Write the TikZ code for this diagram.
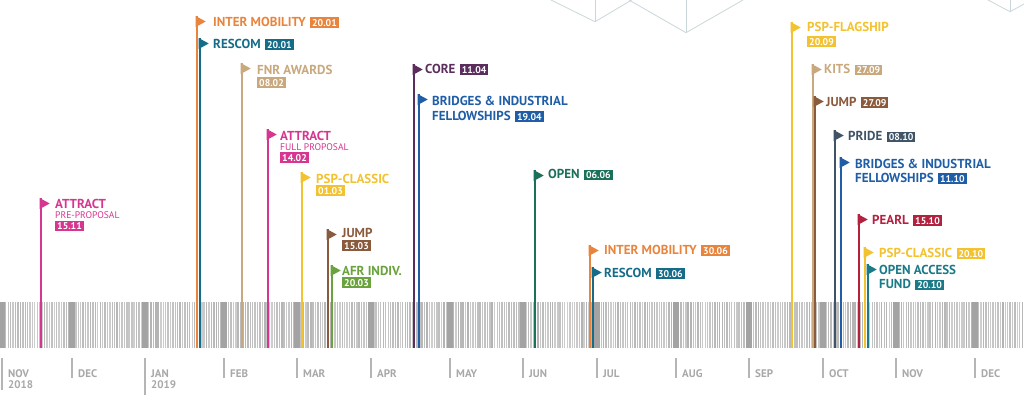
\documentclass[tikz,border=0pt]{standalone}
\usepackage{fontspec}
\setmainfont{PT Sans}
\definecolor{cpink}{HTML}{D6368F}
\definecolor{corange}{HTML}{E8843C}
\definecolor{crescom}{HTML}{156C88}
\definecolor{ctan}{HTML}{C8A87C}
\definecolor{cyellow}{HTML}{F2C230}
\definecolor{cbrown}{HTML}{8A5A3C}
\definecolor{cgreen}{HTML}{6AA33E}
\definecolor{cpurple}{HTML}{5A2D5C}
\definecolor{cblue}{HTML}{1F5EA6}
\definecolor{copen}{HTML}{1A7058}
\definecolor{cslate}{HTML}{3F5466}
\definecolor{ccrimson}{HTML}{B3213F}
\definecolor{cteal}{HTML}{1A7A88}
\definecolor{cmonth}{HTML}{A8A8A8}
\definecolor{cdeco}{HTML}{C9D6DA}
\newcommand{\evline}[4]{%
  \coordinate (#1t) at (#2,#3);
  \coordinate (#1b) at (#2,348);
  \draw[#4, line width=2.6pt] (#1t) -- (#1b);
  \fill[#4] ([xshift=-1.3pt]#1t) -- ++(10,5.5) -- ++(-10,5.5) -- cycle;
}
\tikzset{
  ttl/.style={anchor=base west, inner sep=0pt, font=\bfseries\fontsize{13}{13}\selectfont},
  sub/.style={anchor=base west, inner sep=0pt, font=\fontsize{9.6}{9.6}\selectfont},
  dt/.style={anchor=base west, text=white, inner xsep=2pt, inner ysep=1.7pt, font=\bfseries\fontsize{9.8}{9.8}\selectfont},
  mon/.style={anchor=base west, inner sep=0pt, text=cmonth, font=\bfseries\fontsize{11}{11}\selectfont, align=left},
  tick/.style={draw=cmonth!85, line width=2pt},
  deco/.style={draw=cdeco, line width=0.8pt}
}
\begin{document}
\begin{tikzpicture}[x=1pt,y=-1pt]
\useasboundingbox (0,0) rectangle (1024,397);
% top decoration
\draw[deco] (551,0) -- (595,21.7) -- (631.7,0);
\draw[deco] (595,0) -- (595,21.7);
\draw[deco] (629,0) -- (686,32.7) -- (743,0);
\draw[deco] (686,0) -- (686,32.7);
\draw[deco] (988,0) -- (1010,11.7) -- (1024,4);
\draw[deco] (1010,0) -- (1010,11.7);
% barcode band
\pgfmathsetseed{11}
\foreach \i in {0,...,422} {
  \pgfmathsetmacro{\xx}{1+\i*2.42}
  \pgfmathsetmacro{\ww}{1.1+rnd*0.7}
  \pgfmathsetmacro{\gg}{19+rnd*11}
  \draw[line width=\ww pt, color=black!\gg] (\xx,302) -- (\xx,348);
}
\foreach \mx in {2,72,145,224,297,371,450,523,597,676,749,823,896,975} {
  \fill[black!36] (\mx-3,302) rectangle (\mx+3,348);
}
% month ticks and labels
\foreach \mx/\len in {2/390,72/378,145/395,224/378,297/378,371/378,450/378,523/378,597/378,676/378,749/378,823/378,896/378,975/378} {
  \draw[tick] (\mx,358) -- (\mx,\len);
}
\node[mon] (m1) at (8,377) {NOV};
\node[mon] (m1y) at (8,388) {2018};
\node[mon] (m2) at (78,377) {DEC};
\node[mon] (m3) at (151,377) {JAN};
\node[mon] (m3y) at (151,388) {2019};
\node[mon] (m4) at (230,377) {FEB};
\node[mon] (m5) at (303,377) {MAR};
\node[mon] (m6) at (377,377) {APR};
\node[mon] (m7) at (456,377) {MAY};
\node[mon] (m8) at (529,377) {JUN};
\node[mon] (m9) at (603,377) {JUL};
\node[mon] (m10) at (682,377) {AUG};
\node[mon] (m11) at (755,377) {SEP};
\node[mon] (m12) at (829,377) {OCT};
\node[mon] (m13) at (902,377) {NOV};
\node[mon] (m14) at (981,377) {DEC};
% event lines
\evline{a}{41}{198}{cpink}
\evline{b}{197}{16}{corange}
\evline{c}{200}{38}{crescom}
\evline{d}{242}{63}{ctan}
\evline{e}{268}{129}{cpink}
\evline{f}{302}{172}{cyellow}
\evline{g}{328}{229}{cbrown}
\evline{h}{332}{265}{cgreen}
\evline{i}{414}{64}{cpurple}
\evline{j}{419}{94}{cblue}
\evline{k}{535}{170}{copen}
\evline{l}{590}{245}{corange}
\evline{m}{593}{267}{crescom}
\evline{n}{792}{22}{cyellow}
\evline{o}{813}{64}{ctan}
\evline{p}{815}{96}{cbrown}
\evline{q}{835}{130}{cslate}
\evline{r}{841}{157}{cblue}
\evline{s}{859}{214}{ccrimson}
\evline{t}{865}{247}{cyellow}
\evline{u}{868}{264}{cteal}
% labels
\node[ttl, text=cpink] (a1) at (55,208.5) {ATTRACT};
\node[sub, text=cpink] (a2) at (55,218.5) {PRE-PROPOSAL};
\node[dt, fill=cpink] (a3) at (55,229.5) {15.11};

\node[ttl, text=corange] (b1) at (213,26) {INTER MOBILITY};
\node[dt, fill=corange] (b2) at ([xshift=4pt]b1.base east) {20.01};

\node[ttl, text=crescom] (c1) at (213,48) {RESCOM};
\node[dt, fill=crescom] (c2) at ([xshift=4pt]c1.base east) {20.01};

\node[ttl, text=ctan] (d1) at (257,74) {FNR AWARDS};
\node[dt, fill=ctan] (d2) at (257,86) {08.02};

\node[ttl, text=cpink] (e1) at (280,140) {ATTRACT};
\node[sub, text=cpink] (e2) at (280,150) {FULL PROPOSAL};
\node[dt, fill=cpink] (e3) at (280,161) {14.02};

\node[ttl, text=cyellow] (f1) at (316,183) {PSP-CLASSIC};
\node[dt, fill=cyellow] (f2) at (316,194) {01.03};

\node[ttl, text=cbrown] (g1) at (342,237.5) {JUMP};
\node[dt, fill=cbrown] (g2) at (342,249) {15.03};

\node[ttl, text=cgreen] (h1) at (342,275) {AFR INDIV.};
\node[dt, fill=cgreen] (h2) at (342,286) {20.03};

\node[ttl, text=cpurple] (i1) at (425,73) {CORE};
\node[dt, fill=cpurple] (i2) at ([xshift=4pt]i1.base east) {11.04};

\node[ttl, text=cblue] (j1) at (432,105) {BRIDGES \& INDUSTRIAL};
\node[ttl, text=cblue] (j2) at (432,120) {FELLOWSHIPS};
\node[dt, fill=cblue] (j3) at ([xshift=4pt]j2.base east) {19.04};

\node[ttl, text=copen] (k1) at (548,178.5) {OPEN};
\node[dt, fill=copen] (k2) at ([xshift=4pt]k1.base east) {06.06};

\node[ttl, text=corange] (l1) at (604,254) {INTER MOBILITY};
\node[dt, fill=corange] (l2) at ([xshift=4pt]l1.base east) {30.06};

\node[ttl, text=crescom] (m1e) at (604,277) {RESCOM};
\node[dt, fill=crescom] (m2e) at ([xshift=4pt]m1e.base east) {30.06};

\node[ttl, text=cyellow] (n1) at (807,31.5) {PSP-FLAGSHIP};
\node[dt, fill=cyellow] (n2) at (807,45) {20.09};

\node[ttl, text=ctan] (o1) at (824,73.5) {KITS};
\node[dt, fill=ctan] (o2) at ([xshift=4pt]o1.base east) {27.09};

\node[ttl, text=cbrown] (p1) at (826,106) {JUMP};
\node[dt, fill=cbrown] (p2) at ([xshift=4pt]p1.base east) {27.09};

\node[ttl, text=cslate] (q1) at (848,140.5) {PRIDE};
\node[dt, fill=cslate] (q2) at ([xshift=4pt]q1.base east) {08.10};

\node[ttl, text=cblue] (r1) at (855,168) {BRIDGES \& INDUSTRIAL};
\node[ttl, text=cblue] (r2) at (855,182) {FELLOWSHIPS};
\node[dt, fill=cblue] (r3) at ([xshift=4pt]r2.base east) {11.10};

\node[ttl, text=ccrimson] (s1) at (872,224) {PEARL};
\node[dt, fill=ccrimson] (s2) at ([xshift=4pt]s1.base east) {15.10};

\node[ttl, text=cyellow] (t1) at (879,257) {PSP-CLASSIC};
\node[dt, fill=cyellow] (t2) at ([xshift=4pt]t1.base east) {20.10};

\node[ttl, text=cteal] (u1) at (879,274.5) {OPEN ACCESS};
\node[ttl, text=cteal] (u2) at (879,288.5) {FUND};
\node[dt, fill=cteal] (u3) at ([xshift=4pt]u2.base east) {20.10};
\end{tikzpicture}
\end{document}
